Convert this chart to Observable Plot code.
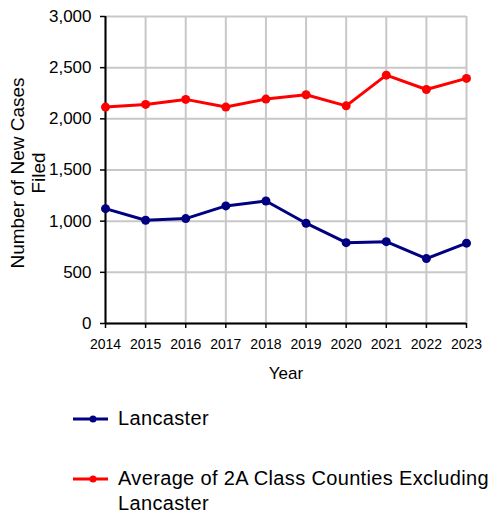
<!DOCTYPE html>
<html><head><meta charset="utf-8">
<script src="https://cdn.jsdelivr.net/npm/d3@7"></script>
<script src="https://cdn.jsdelivr.net/npm/@observablehq/plot@0.6"></script>
<style>
body{margin:0;background:#fff;font-family:"Liberation Sans",Arial,sans-serif;color:#000;}
#chart svg{display:block;}
.legend{position:relative;width:490px;height:123px;}
.item{position:absolute;left:73px;display:flex;align-items:flex-start;}
.item svg{flex:none;margin-top:0;}
.item span{display:block;width:372px;font-size:20px;line-height:25px;letter-spacing:0.35px;}
</style></head><body>
<div id="chart"></div>
<div class="legend" id="legend"></div>
<script>
const years = [2014,2015,2016,2017,2018,2019,2020,2021,2022,2023];
const lancaster = [1122,1009,1025,1149,1197,980,790,800,634,785];
const average = [2115,2141,2190,2115,2193,2235,2127,2427,2287,2395];
const seriesNames = ["Lancaster","Average of 2A Class Counties Excluding Lancaster"];
const seriesColors = ["#000080","#ff0000"];
const yTicks = [0,500,1000,1500,2000,2500,3000];
const yLabel = "Number of New Cases\nFiled";
const xLabel = "Year";

const rows = [];
years.forEach((y,i)=>{
  rows.push({year:y, value:lancaster[i], series:seriesNames[0]});
  rows.push({year:y, value:average[i], series:seriesNames[1]});
});

const chart = Plot.plot({
  width:490, height:392,
  marginLeft:105, marginRight:24, marginTop:16, marginBottom:69,
  style:{fontFamily:"'Liberation Sans', Arial, sans-serif", background:"#fff", color:"#000"},
  x:{domain:[2014,2023], type:"linear"},
  y:{domain:[0,3000]},
  color:{domain:seriesNames, range:seriesColors},
  marks:[
    Plot.gridY(yTicks,{stroke:"#c8c8c8", strokeOpacity:1, strokeWidth:2}),
    Plot.gridX(years,{stroke:"#c8c8c8", strokeOpacity:1, strokeWidth:2}),
    Plot.axisY(yTicks,{tickSize:5, tickPadding:9, tickFormat:d3.format(","), fontSize:17, label:null, strokeWidth:1.5}),
    Plot.axisX(years,{tickSize:5, tickPadding:11, tickFormat:d=>String(d), fontSize:14, label:null, strokeWidth:1.5}),
    Plot.ruleX([2014],{stroke:"#000", strokeWidth:2}),
    Plot.ruleY([0],{stroke:"#000", strokeWidth:2}),
    Plot.line(rows,{x:"year", y:"value", z:"series", stroke:"series", strokeWidth:3}),
    Plot.dot(rows,{x:"year", y:"value", fill:"series", r:4.5}),
    Plot.text([xLabel],{frameAnchor:"bottom", dy:55, fontSize:17, text:d=>d}),
    Plot.text([yLabel],{frameAnchor:"left", textAnchor:"middle", dx:-78, dy:3, rotate:-90, fontSize:19, lineHeight:1.1, text:d=>d})
  ]
});
document.getElementById("chart").appendChild(chart);

const legend = document.getElementById("legend");
const tops = [13.5, 73.5];
seriesNames.forEach((name,i)=>{
  const item = document.createElement("div");
  item.className = "item";
  item.style.top = tops[i] + "px";
  item.innerHTML = `<svg width="45" height="25"><line x1="0" x2="35" y1="13" y2="13" stroke="${seriesColors[i]}" stroke-width="3"/><circle cx="20" cy="13" r="3.5" fill="${seriesColors[i]}"/></svg><span>${name}</span>`;
  legend.appendChild(item);
});
</script>
</body></html>
